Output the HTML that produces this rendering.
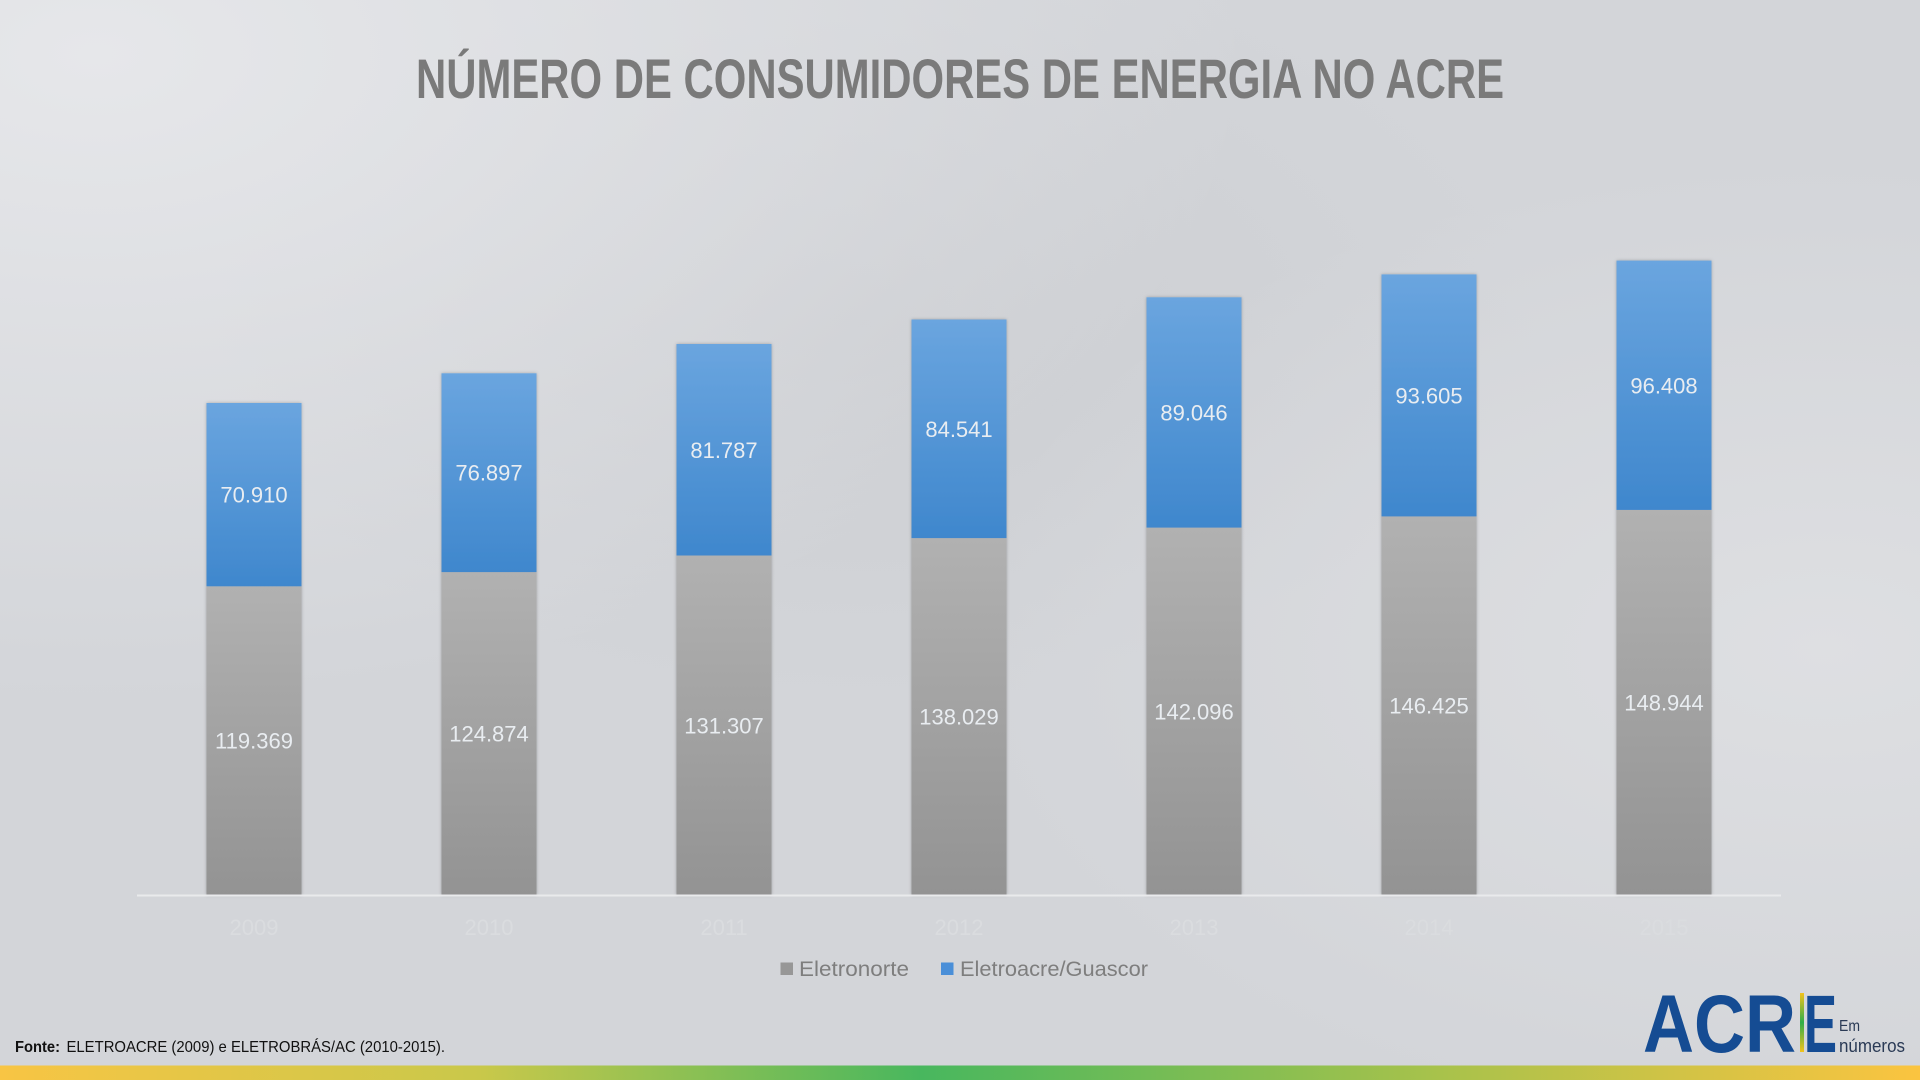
<!DOCTYPE html>
<html>
<head>
<meta charset="utf-8">
<style>
  html,body{margin:0;padding:0;width:1920px;height:1080px;overflow:hidden;background:#d3d5d9;}
  svg{display:block;}
  text{font-family:"Liberation Sans",sans-serif;}
</style>
</head>
<body>
<svg width="1920" height="1080" viewBox="0 0 1920 1080" xmlns="http://www.w3.org/2000/svg">
  <defs>
    <radialGradient id="bgTL" cx="0.05" cy="0.05" r="0.6">
      <stop offset="0" stop-color="#e6e7ea" stop-opacity="1"/>
      <stop offset="1" stop-color="#e6e7ea" stop-opacity="0"/>
    </radialGradient>
    <radialGradient id="bgR" cx="0.95" cy="0.6" r="0.45">
      <stop offset="0" stop-color="#dfe0e3" stop-opacity="0.9"/>
      <stop offset="1" stop-color="#dfe0e3" stop-opacity="0"/>
    </radialGradient>
    <radialGradient id="bgD" cx="0.45" cy="0.3" r="0.35">
      <stop offset="0" stop-color="#c8cace" stop-opacity="0.6"/>
      <stop offset="1" stop-color="#c8cace" stop-opacity="0"/>
    </radialGradient>
    <linearGradient id="grey" x1="0" y1="0" x2="0" y2="1">
      <stop offset="0" stop-color="#b1b1b1"/>
      <stop offset="1" stop-color="#939393"/>
    </linearGradient>
    <linearGradient id="blue" x1="0" y1="0" x2="0" y2="1">
      <stop offset="0" stop-color="#6aa5df"/>
      <stop offset="1" stop-color="#3f87cd"/>
    </linearGradient>
    <linearGradient id="bottomBar" x1="0" y1="0" x2="1" y2="0">
      <stop offset="0" stop-color="#f8c544"/>
      <stop offset="0.25" stop-color="#c9c84a"/>
      <stop offset="0.48" stop-color="#48b75e"/>
      <stop offset="0.75" stop-color="#a8c24b"/>
      <stop offset="1" stop-color="#fbc440"/>
    </linearGradient>
    <linearGradient id="logoBar" x1="0" y1="0" x2="0" y2="1">
      <stop offset="0" stop-color="#f2c21c"/>
      <stop offset="0.5" stop-color="#2fae4a"/>
      <stop offset="1" stop-color="#f2c21c"/>
    </linearGradient>
    <filter id="sh" x="-10%" y="-5%" width="120%" height="110%">
      <feDropShadow dx="0" dy="0" stdDeviation="1.5" flood-color="#000" flood-opacity="0.25"/>
    </filter>
  </defs>

  <!-- background -->
  <rect x="0" y="0" width="1920" height="1080" fill="#d3d5d9"/>
  <rect x="0" y="0" width="1920" height="1080" fill="url(#bgD)"/>
  <rect x="0" y="0" width="1920" height="1080" fill="url(#bgTL)"/>
  <rect x="0" y="0" width="1920" height="1080" fill="url(#bgR)"/>

  <!-- title -->
  <text x="416" y="98" font-size="56" font-weight="bold" fill="#7a7a7a" textLength="1088" lengthAdjust="spacingAndGlyphs">NÚMERO DE CONSUMIDORES DE ENERGIA NO ACRE</text>

  <!-- bars -->
  <g filter="url(#sh)">
    <rect x="206.5" y="586.3" width="95" height="308.7" fill="url(#grey)"/>
    <rect x="206.5" y="403" width="95" height="183.3" fill="url(#blue)"/>

    <rect x="441.5" y="572.1" width="95" height="322.9" fill="url(#grey)"/>
    <rect x="441.5" y="373.3" width="95" height="198.8" fill="url(#blue)"/>

    <rect x="676.5" y="555.5" width="95" height="339.5" fill="url(#grey)"/>
    <rect x="676.5" y="344" width="95" height="211.5" fill="url(#blue)"/>

    <rect x="911.5" y="538.1" width="95" height="356.9" fill="url(#grey)"/>
    <rect x="911.5" y="319.5" width="95" height="218.6" fill="url(#blue)"/>

    <rect x="1146.5" y="527.6" width="95" height="367.4" fill="url(#grey)"/>
    <rect x="1146.5" y="297.3" width="95" height="230.3" fill="url(#blue)"/>

    <rect x="1381.5" y="516.4" width="95" height="378.6" fill="url(#grey)"/>
    <rect x="1381.5" y="274.4" width="95" height="242" fill="url(#blue)"/>

    <rect x="1616.5" y="509.9" width="95" height="385.1" fill="url(#grey)"/>
    <rect x="1616.5" y="260.6" width="95" height="249.3" fill="url(#blue)"/>
  </g>

  <!-- axis line -->
  <rect x="137" y="894.5" width="1644" height="2" fill="#e9eaec"/>

  <!-- data labels -->
  <g font-size="22" text-anchor="middle" fill="#e9edf1">
    <text x="254" y="502.7">70.910</text>
    <text x="254" y="748.7">119.369</text>
    <text x="489" y="480.7">76.897</text>
    <text x="489" y="741.6">124.874</text>
    <text x="724" y="457.8">81.787</text>
    <text x="724" y="733.3">131.307</text>
    <text x="959" y="436.8">84.541</text>
    <text x="959" y="724.6">138.029</text>
    <text x="1194" y="420.5">89.046</text>
    <text x="1194" y="719.3">142.096</text>
    <text x="1429" y="403.4">93.605</text>
    <text x="1429" y="713.7">146.425</text>
    <text x="1664" y="393.3">96.408</text>
    <text x="1664" y="710.5">148.944</text>
  </g>

  <!-- x axis labels (very faint) -->
  <g font-size="22" text-anchor="middle" fill="#dadcdf">
    <text x="254" y="935">2009</text>
    <text x="489" y="935">2010</text>
    <text x="724" y="935">2011</text>
    <text x="959" y="935">2012</text>
    <text x="1194" y="935">2013</text>
    <text x="1429" y="935">2014</text>
    <text x="1664" y="935">2015</text>
  </g>

  <!-- legend -->
  <rect x="780.5" y="962.5" width="12.5" height="12.5" fill="#979797"/>
  <text x="799" y="976" font-size="21.5" fill="#7e7e7e" textLength="110" lengthAdjust="spacingAndGlyphs">Eletronorte</text>
  <rect x="941" y="962.5" width="12.5" height="12.5" fill="#4a8fd8"/>
  <text x="960" y="976" font-size="21.5" fill="#7e7e7e" textLength="188" lengthAdjust="spacingAndGlyphs">Eletroacre/Guascor</text>

  <!-- source -->
  <text x="15" y="1052" font-size="16" font-weight="bold" fill="#111" textLength="45" lengthAdjust="spacingAndGlyphs">Fonte:</text>
  <text x="66.5" y="1052" font-size="16" fill="#111" textLength="378.5" lengthAdjust="spacingAndGlyphs">ELETROACRE (2009) e ELETROBRÁS/AC (2010-2015).</text>

  <!-- logo -->
  <text x="1643" y="1052" font-size="82" font-weight="bold" fill="#154c93" textLength="153" lengthAdjust="spacingAndGlyphs">ACR</text>
  <rect x="1800" y="993" width="4" height="59" fill="url(#logoBar)"/>
  <text x="1804" y="1052" font-size="82" font-weight="bold" fill="#154c93" textLength="33" lengthAdjust="spacingAndGlyphs">E</text>
  <text x="1839" y="1031" font-size="16" fill="#2a3a55" textLength="21" lengthAdjust="spacingAndGlyphs">Em</text>
  <text x="1839" y="1052" font-size="18" fill="#2a3a55" textLength="66" lengthAdjust="spacingAndGlyphs">números</text>

  <!-- bottom gradient bar -->
  <rect x="0" y="1065.5" width="1920" height="14.5" fill="url(#bottomBar)"/>
</svg>
</body>
</html>
